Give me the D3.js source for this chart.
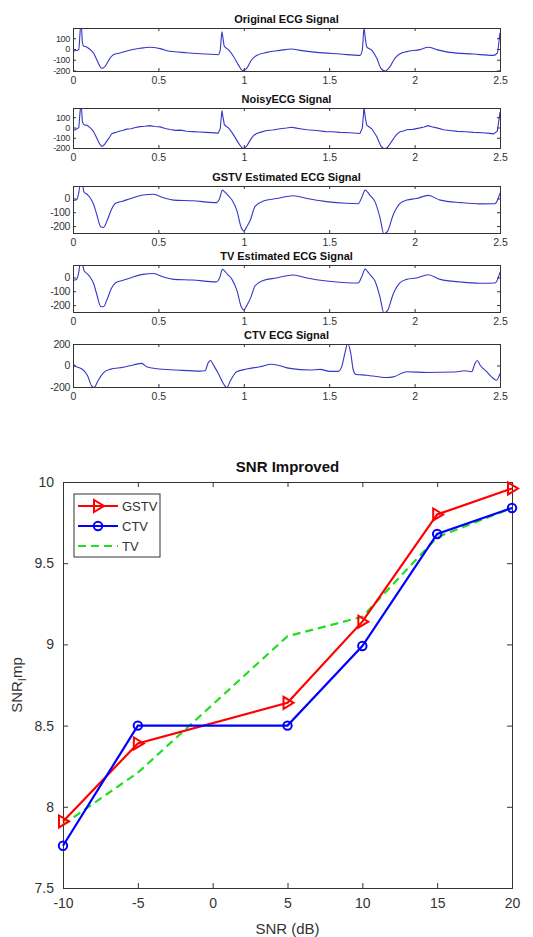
<!DOCTYPE html>
<html>
<head>
<meta charset="utf-8">
<script src="https://cdn.jsdelivr.net/npm/d3@7"></script>
<style>
body { margin: 0; background: #fff; }
svg { font-family: "Liberation Sans", Arial, sans-serif; }
</style>
</head>
<body>
<div id="chart"></div>
<script>
// ---- ECG traces, [time (s), amplitude] ----
var origEcg = [[0,-20],[0.02,-15],[0.034,-5],[0.04,120],[0.044,200],[0.05,190],[0.055,60],[0.062,28],[0.08,19],[0.1,-5],[0.12,-38],[0.144,-117],[0.168,-180],[0.187,-164],[0.217,-85],[0.236,-54],[0.275,-38],[0.314,-19],[0.392,6],[0.45,16],[0.51,3],[0.568,-22],[0.665,-35],[0.78,-47],[0.85,-54],[0.862,-10],[0.872,160],[0.878,100],[0.886,25],[0.91,-6],[0.94,-70],[0.968,-148],[0.993,-200],[1.017,-180],[1.046,-100],[1.075,-60],[1.134,-32],[1.212,-13],[1.28,0],[1.329,-13],[1.427,-32],[1.563,-47],[1.68,-60],[1.694,-6],[1.704,195],[1.712,90],[1.72,19],[1.75,-13],[1.778,-85],[1.803,-180],[1.827,-205],[1.856,-164],[1.885,-85],[1.915,-44],[1.954,-25],[2.032,-6],[2.08,16],[2.13,-6],[2.207,-32],[2.344,-47],[2.461,-60],[2.484,-38],[2.496,95],[2.5,150]];

var noisyEcg = [[0,-18],[0.012,-24],[0.022,-12],[0.034,-2],[0.04,125],[0.044,200],[0.05,185],[0.055,55],[0.062,30],[0.07,22],[0.08,24],[0.09,12],[0.1,-2],[0.11,-18],[0.12,-40],[0.132,-78],[0.144,-120],[0.156,-160],[0.168,-183],[0.177,-178],[0.187,-160],[0.2,-128],[0.217,-88],[0.226,-62],[0.236,-55],[0.25,-48],[0.262,-42],[0.275,-35],[0.29,-30],[0.314,-16],[0.34,-12],[0.36,-3],[0.392,8],[0.42,12],[0.45,18],[0.48,10],[0.51,6],[0.54,-10],[0.568,-20],[0.6,-28],[0.63,-26],[0.665,-37],[0.7,-40],[0.74,-44],[0.78,-48],[0.81,-50],[0.85,-55],[0.862,-12],[0.872,165],[0.878,105],[0.886,28],[0.898,10],[0.91,-4],[0.925,-35],[0.94,-72],[0.968,-150],[0.985,-190],[0.993,-205],[1.005,-198],[1.017,-182],[1.03,-145],[1.046,-102],[1.06,-75],[1.075,-58],[1.1,-45],[1.134,-30],[1.17,-25],[1.212,-12],[1.25,-5],[1.28,2],[1.3,-4],[1.329,-12],[1.37,-22],[1.427,-30],[1.48,-40],[1.52,-42],[1.563,-48],[1.62,-52],[1.68,-58],[1.694,-4],[1.704,195],[1.712,92],[1.72,22],[1.735,5],[1.75,-15],[1.778,-88],[1.803,-182],[1.815,-200],[1.827,-208],[1.84,-195],[1.856,-160],[1.885,-88],[1.9,-60],[1.915,-42],[1.935,-35],[1.954,-22],[1.99,-18],[2.032,-4],[2.055,5],[2.08,18],[2.1,8],[2.13,-4],[2.17,-22],[2.207,-30],[2.25,-38],[2.3,-42],[2.344,-48],[2.4,-52],[2.44,-57],[2.461,-62],[2.484,-36],[2.496,98],[2.5,150]];

var gstvEcg = [[0,-15],[0.02,-10],[0.032,30],[0.042,95],[0.055,95],[0.065,45],[0.08,32],[0.1,5],[0.12,-40],[0.14,-120],[0.162,-205],[0.178,-210],[0.2,-160],[0.225,-80],[0.25,-35],[0.29,-20],[0.34,0],[0.41,25],[0.47,30],[0.53,5],[0.59,-12],[0.7,-17],[0.84,-30],[0.857,-5],[0.875,60],[0.89,45],[0.905,25],[0.93,-10],[0.96,-90],[0.985,-210],[1.0,-235],[1.02,-200],[1.04,-150],[1.066,-57],[1.114,-19],[1.19,-1],[1.29,20],[1.37,-1],[1.485,-23],[1.6,-35],[1.67,-38],[1.69,5],[1.71,60],[1.725,45],[1.74,20],[1.768,-23],[1.797,-137],[1.82,-255],[1.84,-240],[1.876,-114],[1.915,-35],[1.954,-12],[2.01,-1],[2.08,22],[2.15,-12],[2.27,-30],[2.38,-39],[2.47,-38],[2.486,-12],[2.5,40]];

var tvEcg = [[0,-20],[0.02,-15],[0.032,25],[0.042,95],[0.055,95],[0.065,48],[0.08,30],[0.1,3],[0.12,-42],[0.14,-125],[0.162,-210],[0.178,-212],[0.2,-158],[0.225,-78],[0.25,-38],[0.29,-22],[0.34,-2],[0.41,22],[0.47,28],[0.53,3],[0.59,-14],[0.7,-19],[0.84,-32],[0.857,-8],[0.875,58],[0.89,44],[0.905,22],[0.93,-12],[0.96,-95],[0.985,-212],[1.0,-235],[1.02,-198],[1.04,-148],[1.066,-60],[1.114,-22],[1.19,-4],[1.29,18],[1.37,-4],[1.485,-26],[1.6,-38],[1.67,-40],[1.69,3],[1.71,60],[1.725,42],[1.74,18],[1.768,-26],[1.797,-140],[1.82,-255],[1.84,-242],[1.876,-116],[1.915,-38],[1.954,-14],[2.01,-4],[2.08,20],[2.15,-14],[2.27,-33],[2.38,-42],[2.47,-40],[2.486,-14],[2.5,38]];

var ctvEcg = [[0,36],[0.01,-5],[0.03,-17],[0.05,-30],[0.084,-90],[0.109,-190],[0.123,-205],[0.148,-137],[0.178,-68],[0.217,-36],[0.295,-17],[0.353,5],[0.402,20],[0.431,-11],[0.49,-30],[0.607,-42],[0.744,-52],[0.773,-49],[0.792,27],[0.806,46],[0.822,5],[0.851,-74],[0.88,-168],[0.9,-205],[0.923,-137],[0.958,-58],[1.017,-33],[1.095,-11],[1.163,11],[1.192,5],[1.27,-27],[1.388,-42],[1.446,-36],[1.505,-55],[1.553,-55],[1.573,-11],[1.592,115],[1.608,205],[1.626,115],[1.641,-42],[1.657,-83],[1.719,-90],[1.836,-112],[1.875,-106],[1.954,-58],[2.071,-65],[2.227,-61],[2.295,-49],[2.334,-58],[2.354,20],[2.367,46],[2.383,5],[2.422,-58],[2.461,-121],[2.48,-137],[2.5,-74]];

var ecgTitles = ["Original ECG Signal", "NoisyECG Signal", "GSTV Estimated ECG Signal", "TV Estimated ECG Signal", "CTV ECG Signal"];
var ecgTicksX = [0, 0.5, 1, 1.5, 2, 2.5];
var ecgTicksY4 = [-200, -100, 0, 100];
var ecgTicksY3 = [-200, -100, 0];
var ecgTicksY2 = [-200, 0, 200];

// ---- SNR improvement ----
var snrDb = [-10, -5, 5, 10, 15, 20];
var gstvImp = [7.91, 8.39, 8.64, 9.14, 9.80, 9.96];
var ctvImp = [7.76, 8.50, 8.50, 8.99, 9.68, 9.84];
var tvImp = [7.89, 8.21, 9.05, 9.17, 9.66, 9.84];
var snrTicksX = [-10, -5, 0, 5, 10, 15, 20];
var snrTicksY = [7.5, 8, 8.5, 9, 9.5, 10];

var svg = d3.select("#chart").append("svg")
    .attr("width", 533).attr("height", 937);

var axisColor = "#333";
var ecgColor = "#3636c8";
var plainNum = d => String(d);   // matlab style hyphen minus

// panel layout
var panels = [
    {title: ecgTitles[0], data: origEcg, dom: [-205, 195], ticks: ecgTicksY4, top: 28, bottom: 71, curve: d3.curveMonotoneX, fs: 9},
    {title: ecgTitles[1], data: noisyEcg, dom: [-200, 190], ticks: ecgTicksY4, top: 108, bottom: 148, curve: d3.curveLinear, fs: 9},
    {title: ecgTitles[2], data: gstvEcg, dom: [-250, 90], ticks: ecgTicksY3, top: 186, bottom: 233, curve: d3.curveMonotoneX, fs: 10.5},
    {title: ecgTitles[3], data: tvEcg, dom: [-250, 90], ticks: ecgTicksY3, top: 265, bottom: 312, curve: d3.curveMonotoneX, fs: 10.5},
    {title: ecgTitles[4], data: ctvEcg, dom: [-200, 200], ticks: ecgTicksY2, top: 344, bottom: 387, curve: d3.curveMonotoneX, fs: 10.5}
];

var xEcg = d3.scaleLinear().domain([0, 2.5]).range([73, 500]);

panels.forEach(function(p, i) {
    var y = d3.scaleLinear().domain(p.dom).range([p.bottom, p.top]);
    var g = svg.append("g");

    g.append("clipPath").attr("id", "clip" + i)
        .append("rect")
        .attr("x", 73).attr("y", p.top)
        .attr("width", 427).attr("height", p.bottom - p.top);

    g.append("path")
        .datum(p.data)
        .attr("clip-path", "url(#clip" + i + ")")
        .attr("fill", "none")
        .attr("stroke", ecgColor)
        .attr("stroke-width", 1.1)
        .attr("d", d3.line().x(d => xEcg(d[0])).y(d => y(d[1])).curve(p.curve));

    // axes, ticks pointing inwards
    var bottomAxis = d3.axisBottom(xEcg).tickValues(ecgTicksX).tickSize(-3).tickPadding(6).tickFormat(plainNum);
    var leftAxis = d3.axisLeft(y).tickValues(p.ticks).tickSize(-3).tickPadding(3).tickFormat(plainNum);
    var topAxis = d3.axisTop(xEcg).tickValues(ecgTicksX).tickSize(-3).tickFormat("");
    var rightAxis = d3.axisRight(y).tickValues(p.ticks).tickSize(-3).tickFormat("");

    g.append("g").attr("transform", `translate(0,${p.bottom})`).call(bottomAxis)
        .selectAll(".tick text").style("font-size", "10.5px");
    var gl = g.append("g").attr("transform", "translate(73,0)").call(leftAxis);
    g.append("g").attr("transform", `translate(0,${p.top})`).call(topAxis);
    g.append("g").attr("transform", "translate(500,0)").call(rightAxis);

    g.selectAll(".domain").attr("stroke", axisColor);
    g.selectAll(".tick line").attr("stroke", axisColor);
    g.selectAll(".tick text").attr("fill", axisColor);
    gl.selectAll(".tick text").style("font-size", p.fs + "px").attr("letter-spacing", "-0.3px");

    g.append("text")
        .attr("x", 286.5).attr("y", p.top - 5)
        .attr("text-anchor", "middle")
        .style("font-size", "11px").style("font-weight", "bold")
        .attr("fill", "#111")
        .text(p.title);
});

// ---- bottom chart ----
var xSnr = d3.scaleLinear().domain([-10, 20]).range([63, 512]);
var ySnr = d3.scaleLinear().domain([7.5, 10]).range([888, 482]);
var chartGroup = svg.append("g");

var bAxis = d3.axisBottom(xSnr).tickValues(snrTicksX).tickSize(-5).tickPadding(10).tickFormat(plainNum);
var lAxis = d3.axisLeft(ySnr).tickValues(snrTicksY).tickSize(-5).tickPadding(9).tickFormat(plainNum);
chartGroup.append("g").attr("transform", "translate(0,888)").call(bAxis);
chartGroup.append("g").attr("transform", "translate(63,0)").call(lAxis);
chartGroup.append("g").attr("transform", "translate(0,482)").call(d3.axisTop(xSnr).tickValues(snrTicksX).tickSize(-5).tickFormat(""));
chartGroup.append("g").attr("transform", "translate(512,0)").call(d3.axisRight(ySnr).tickValues(snrTicksY).tickSize(-5).tickFormat(""));
chartGroup.selectAll(".domain").attr("stroke", axisColor);
chartGroup.selectAll(".tick line").attr("stroke", axisColor);
chartGroup.selectAll(".tick text").attr("fill", axisColor).style("font-size", "14px");

chartGroup.append("text")
    .attr("x", 287.5).attr("y", 472)
    .attr("text-anchor", "middle")
    .style("font-size", "15px").style("font-weight", "bold")
    .attr("fill", "#111")
    .text("SNR Improved");

chartGroup.append("text")
    .attr("x", 287.5).attr("y", 934)
    .attr("text-anchor", "middle")
    .style("font-size", "15px")
    .attr("fill", axisColor)
    .text("SNR (dB)");

var yl = chartGroup.append("text")
    .attr("transform", "translate(22,685) rotate(-90)")
    .attr("text-anchor", "middle")
    .style("font-size", "15px")
    .attr("fill", axisColor);
yl.append("tspan").text("SNR");
yl.append("tspan").attr("dy", 4).style("font-size", "11px").text("I");
yl.append("tspan").attr("dy", -4).text("mp");

var series = [
    {name: "GSTV", vals: gstvImp, color: "#ff0000", dash: null, marker: "tri"},
    {name: "CTV", vals: ctvImp, color: "#0000ff", dash: null, marker: "circle"},
    {name: "TV", vals: tvImp, color: "#22dd22", dash: "8,5", marker: null}
];

var triPath = "M-4,-6L-4,6L6,0Z";

// green first so red and blue sit over it like in the figure
[series[2], series[0], series[1]].forEach(function(s) {
    var pts = snrDb.map((x, i) => [x, s.vals[i]]);
    chartGroup.append("path")
        .datum(pts)
        .attr("fill", "none")
        .attr("stroke", s.color)
        .attr("stroke-width", 2.2)
        .attr("stroke-dasharray", s.dash)
        .attr("d", d3.line().x(d => xSnr(d[0])).y(d => ySnr(d[1])));

    if (s.marker === "tri") {
        chartGroup.selectAll(null).data(pts).enter().append("path")
            .attr("d", triPath)
            .attr("transform", d => `translate(${xSnr(d[0])},${ySnr(d[1])})`)
            .attr("fill", "none").attr("stroke", s.color).attr("stroke-width", 2);
    } else if (s.marker === "circle") {
        chartGroup.selectAll(null).data(pts).enter().append("circle")
            .attr("cx", d => xSnr(d[0])).attr("cy", d => ySnr(d[1]))
            .attr("r", 4.2)
            .attr("fill", "none").attr("stroke", s.color).attr("stroke-width", 2);
    }
});

// legend
var legend = chartGroup.append("g");
legend.append("rect")
    .attr("x", 74).attr("y", 494).attr("width", 86).attr("height", 63)
    .attr("fill", "#fff").attr("stroke", axisColor).attr("stroke-width", 1);
series.forEach(function(s, i) {
    var ly = 506 + i * 20;
    legend.append("line")
        .attr("x1", 78).attr("x2", 118).attr("y1", ly).attr("y2", ly)
        .attr("stroke", s.color).attr("stroke-width", 2.2)
        .attr("stroke-dasharray", s.dash);
    if (s.marker === "tri") {
        legend.append("path").attr("d", triPath)
            .attr("transform", `translate(98,${ly})`)
            .attr("fill", "none").attr("stroke", s.color).attr("stroke-width", 2);
    } else if (s.marker === "circle") {
        legend.append("circle").attr("cx", 98).attr("cy", ly).attr("r", 4.2)
            .attr("fill", "none").attr("stroke", s.color).attr("stroke-width", 2);
    }
    legend.append("text")
        .attr("x", 122).attr("y", ly + 4.5)
        .style("font-size", "13px")
        .attr("fill", axisColor)
        .text(s.name);
});
</script>
</body>
</html>
